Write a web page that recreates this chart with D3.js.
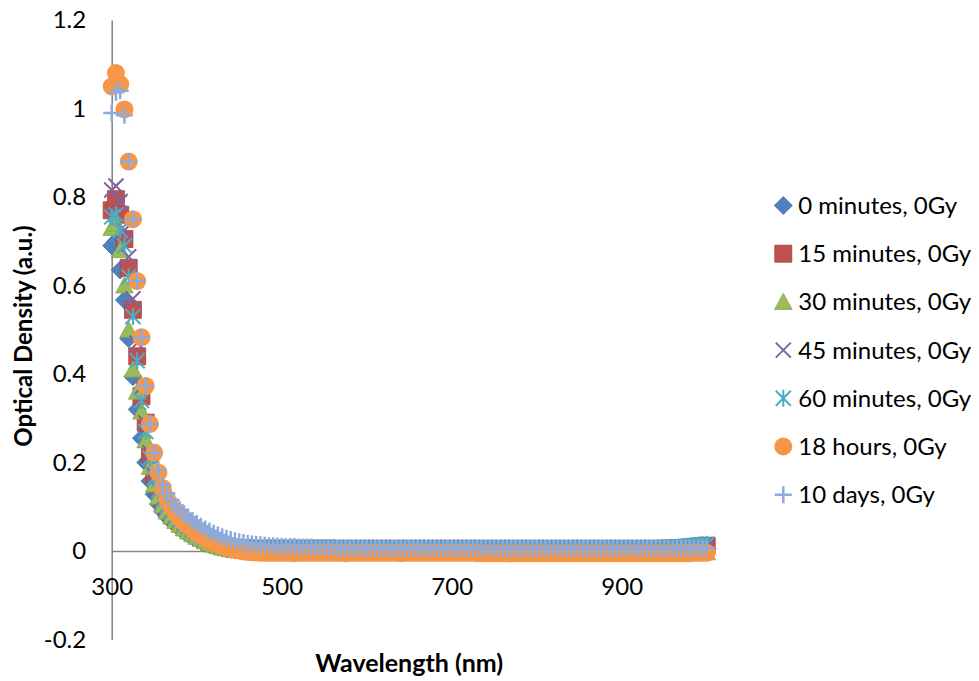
<!DOCTYPE html>
<html>
<head>
<meta charset="utf-8">
<script src="https://cdn.jsdelivr.net/npm/d3@7"></script>
<style>
  body { margin: 0; background: #fff; }
  svg { display: block; }
</style>
</head>
<body>
<svg id="chart" width="979" height="681"></svg>
<script>
// Absorbance spectra, 300–1000 nm sampled every 5 nm (141 points per series)
const wavelengths = d3.range(300, 1001, 5);

const seriesNames = [
  "0 minutes, 0Gy", "15 minutes, 0Gy", "30 minutes, 0Gy", "45 minutes, 0Gy",
  "60 minutes, 0Gy", "18 hours, 0Gy", "10 days, 0Gy"
];

const min0 = [
  0.690,0.700,0.635,0.567,0.480,0.394,0.320,0.255,0.200,0.158,
  0.128,0.106,0.090,0.078,0.068,0.060,0.052,0.045,0.039,0.033,
  0.028,0.023,0.019,0.015,0.012,0.009,0.007,0.005,0.004,0.003,
  0.002,0.002,0.001,0.001,0.001,0.000,0.000,0.000,0.000,0.000,
  0.000,0.000,0.000,0.000,0.000,0.000,0.001,0.000,0.000,0.000,
  0.000,0.000,0.000,0.001,0.000,0.000,0.000,0.000,0.000,0.000,
  0.000,0.000,0.001,0.000,0.000,0.000,0.000,0.000,0.000,0.000,
  0.000,0.000,0.000,0.000,0.001,0.000,0.000,0.000,0.000,0.000,
  0.000,0.000,0.000,0.000,0.000,0.000,0.001,0.001,0.001,0.001,
  0.001,0.001,0.001,0.001,0.001,0.001,0.001,0.001,0.001,0.001,
  0.001,0.001,0.001,0.001,0.001,0.001,0.001,0.001,0.001,0.001,
  0.001,0.001,0.001,0.001,0.001,0.001,0.001,0.001,0.001,0.001,
  0.001,0.001,0.001,0.001,0.002,0.002,0.002,0.002,0.002,0.002,
  0.002,0.002,0.002,0.003,0.003,0.003,0.004,0.004,0.005,0.005,
  0.006
];

const min15 = [
  0.770,0.795,0.760,0.705,0.640,0.545,0.440,0.350,0.290,0.220,
  0.170,0.140,0.118,0.102,0.090,0.079,0.069,0.060,0.052,0.045,
  0.038,0.032,0.027,0.022,0.018,0.014,0.011,0.009,0.007,0.005,
  0.004,0.003,0.003,0.002,0.002,0.002,0.002,0.002,0.002,0.002,
  0.002,0.002,0.002,0.002,0.002,0.003,0.002,0.002,0.002,0.002,
  0.002,0.002,0.002,0.002,0.003,0.002,0.002,0.002,0.002,0.002,
  0.002,0.002,0.002,0.002,0.002,0.002,0.003,0.002,0.002,0.002,
  0.002,0.002,0.002,0.002,0.002,0.002,0.002,0.002,0.002,0.002,
  0.002,0.002,0.002,0.002,0.002,0.002,0.003,0.003,0.003,0.003,
  0.003,0.003,0.003,0.003,0.003,0.003,0.003,0.003,0.003,0.003,
  0.003,0.003,0.003,0.003,0.003,0.003,0.003,0.003,0.003,0.003,
  0.003,0.003,0.003,0.003,0.003,0.003,0.003,0.003,0.003,0.003,
  0.003,0.003,0.003,0.003,0.003,0.003,0.004,0.004,0.004,0.004,
  0.005,0.005,0.005,0.006,0.006,0.007,0.008,0.009,0.010,0.011,
  0.012
];

const min30 = [
  0.730,0.740,0.680,0.600,0.500,0.410,0.360,0.315,0.250,0.190,
  0.150,0.122,0.103,0.089,0.078,0.068,0.059,0.051,0.044,0.038,
  0.032,0.027,0.022,0.018,0.014,0.011,0.008,0.006,0.004,0.003,
  0.002,0.001,0.001,0.000,0.000,-0.001,-0.001,-0.001,-0.001,-0.001,
  -0.001,-0.001,0.000,-0.001,-0.001,-0.001,-0.001,0.000,-0.001,-0.001,
  -0.001,-0.001,-0.001,-0.001,0.000,-0.001,-0.001,-0.001,-0.001,-0.001,
  -0.001,-0.001,-0.001,-0.001,-0.001,-0.001,0.000,-0.001,-0.001,-0.001,
  -0.001,-0.001,-0.001,-0.001,-0.001,-0.001,-0.001,-0.001,-0.001,-0.001,
  -0.001,-0.001,-0.001,-0.001,-0.001,-0.001,-0.001,-0.001,-0.001,-0.001,
  -0.001,-0.001,-0.001,-0.001,-0.001,-0.001,-0.001,-0.001,-0.001,-0.001,
  -0.001,-0.001,-0.001,-0.001,-0.001,-0.001,-0.001,-0.001,-0.001,-0.001,
  -0.001,-0.001,-0.001,-0.001,-0.001,-0.001,-0.001,-0.001,-0.001,-0.001,
  -0.001,-0.001,-0.001,-0.001,-0.001,-0.001,-0.001,-0.001,-0.001,-0.001,
  -0.001,-0.001,-0.001,-0.002,-0.002,-0.002,-0.002,-0.003,-0.003,-0.003,
  -0.003
];

const min45 = [
  0.816,0.825,0.790,0.725,0.665,0.570,0.470,0.370,0.290,0.222,
  0.172,0.140,0.118,0.102,0.090,0.080,0.071,0.063,0.056,0.049,
  0.043,0.037,0.032,0.027,0.023,0.019,0.016,0.013,0.011,0.010,
  0.009,0.009,0.008,0.008,0.008,0.008,0.008,0.008,0.008,0.008,
  0.008,0.008,0.008,0.007,0.008,0.008,0.008,0.008,0.008,0.008,
  0.008,0.008,0.008,0.008,0.008,0.007,0.008,0.008,0.008,0.008,
  0.008,0.008,0.008,0.008,0.008,0.008,0.008,0.008,0.007,0.008,
  0.008,0.008,0.008,0.008,0.008,0.008,0.008,0.008,0.008,0.008,
  0.008,0.008,0.008,0.008,0.008,0.008,0.008,0.008,0.008,0.008,
  0.008,0.008,0.008,0.008,0.008,0.008,0.008,0.008,0.008,0.008,
  0.008,0.008,0.008,0.008,0.008,0.008,0.008,0.008,0.008,0.008,
  0.008,0.008,0.008,0.008,0.008,0.008,0.008,0.008,0.008,0.008,
  0.008,0.008,0.008,0.008,0.008,0.008,0.008,0.008,0.008,0.008,
  0.008,0.008,0.008,0.009,0.009,0.009,0.010,0.010,0.011,0.011,
  0.012
];

const min60 = [
  0.755,0.760,0.725,0.690,0.620,0.530,0.430,0.340,0.270,0.210,
  0.165,0.136,0.115,0.100,0.088,0.078,0.069,0.061,0.054,0.047,
  0.041,0.035,0.030,0.026,0.022,0.018,0.015,0.012,0.010,0.008,
  0.007,0.006,0.006,0.005,0.005,0.005,0.005,0.005,0.005,0.005,
  0.005,0.005,0.005,0.005,0.006,0.005,0.005,0.005,0.005,0.005,
  0.005,0.005,0.005,0.005,0.005,0.005,0.006,0.005,0.005,0.005,
  0.005,0.005,0.005,0.005,0.005,0.005,0.005,0.005,0.005,0.006,
  0.005,0.005,0.005,0.005,0.005,0.005,0.005,0.005,0.005,0.005,
  0.005,0.005,0.005,0.005,0.005,0.005,0.006,0.006,0.006,0.006,
  0.006,0.006,0.006,0.006,0.006,0.006,0.006,0.006,0.006,0.006,
  0.006,0.006,0.006,0.006,0.006,0.006,0.006,0.006,0.006,0.006,
  0.006,0.006,0.006,0.006,0.006,0.006,0.006,0.006,0.006,0.006,
  0.006,0.006,0.006,0.006,0.006,0.006,0.006,0.006,0.006,0.006,
  0.007,0.007,0.008,0.008,0.009,0.010,0.011,0.012,0.013,0.014,
  0.015
];

const hours18 = [
  1.050,1.080,1.055,0.998,0.880,0.750,0.610,0.483,0.373,0.287,
  0.222,0.177,0.142,0.118,0.100,0.086,0.075,0.065,0.056,0.048,
  0.041,0.035,0.029,0.024,0.019,0.015,0.011,0.008,0.005,0.003,
  0.001,-0.001,-0.002,-0.003,-0.003,-0.004,-0.004,-0.004,-0.004,-0.004,
  -0.004,-0.004,-0.004,-0.005,-0.004,-0.004,-0.004,-0.004,-0.004,-0.004,
  -0.004,-0.004,-0.004,-0.004,-0.004,-0.005,-0.004,-0.004,-0.004,-0.004,
  -0.004,-0.004,-0.004,-0.004,-0.004,-0.004,-0.004,-0.004,-0.005,-0.004,
  -0.004,-0.004,-0.004,-0.004,-0.004,-0.004,-0.004,-0.004,-0.004,-0.004,
  -0.004,-0.004,-0.004,-0.004,-0.004,-0.004,-0.005,-0.005,-0.005,-0.005,
  -0.005,-0.005,-0.005,-0.005,-0.005,-0.005,-0.005,-0.005,-0.005,-0.005,
  -0.005,-0.005,-0.005,-0.005,-0.005,-0.005,-0.005,-0.005,-0.005,-0.005,
  -0.005,-0.005,-0.005,-0.005,-0.005,-0.005,-0.005,-0.005,-0.005,-0.005,
  -0.005,-0.005,-0.005,-0.005,-0.005,-0.005,-0.005,-0.005,-0.005,-0.005,
  -0.005,-0.005,-0.005,-0.005,-0.005,-0.005,-0.005,-0.004,-0.004,-0.004,
  -0.004
];

const days10 = [
  0.990,1.037,1.040,0.985,0.880,0.750,0.610,0.483,0.373,0.287,
  0.222,0.183,0.150,0.130,0.115,0.103,0.093,0.084,0.076,0.069,
  0.062,0.056,0.050,0.045,0.040,0.036,0.032,0.029,0.026,0.023,
  0.021,0.019,0.017,0.016,0.015,0.014,0.013,0.012,0.012,0.011,
  0.011,0.010,0.010,0.010,0.009,0.009,0.009,0.009,0.008,0.008,
  0.008,0.008,0.008,0.007,0.007,0.007,0.007,0.007,0.007,0.007,
  0.007,0.007,0.007,0.007,0.007,0.007,0.007,0.007,0.007,0.007,
  0.007,0.007,0.007,0.007,0.006,0.007,0.007,0.007,0.007,0.007,
  0.007,0.007,0.007,0.007,0.007,0.007,0.006,0.006,0.006,0.006,
  0.006,0.006,0.006,0.006,0.006,0.006,0.006,0.006,0.006,0.006,
  0.006,0.006,0.006,0.006,0.006,0.006,0.006,0.006,0.006,0.006,
  0.006,0.006,0.006,0.006,0.006,0.006,0.006,0.006,0.006,0.006,
  0.006,0.006,0.006,0.006,0.006,0.006,0.006,0.006,0.006,0.006,
  0.006,0.006,0.006,0.006,0.007,0.007,0.007,0.007,0.007,0.007,
  0.007
];

const xTicks = [300, 500, 700, 900];
const yTicks = [-0.2, 0, 0.2, 0.4, 0.6, 0.8, 1, 1.2];
const yTickLabels = ["-0.2", "0", "0.2", "0.4", "0.6", "0.8", "1", "1.2"];

// Marker styling, one entry per series (Office palette)
const markerStyles = [
  { shape: "diamond",  fill: "#4F81BD", stroke: "#41709F", width: 0.8 },
  { shape: "square",   fill: "#C0504D", stroke: "#A8423F", width: 0.8 },
  { shape: "triangle", fill: "#9BBB59", stroke: "#88A64A", width: 0.8 },
  { shape: "x",        fill: "none",    stroke: "#8064A2", width: 2 },
  { shape: "star",     fill: "none",    stroke: "#4BACC6", width: 2 },
  { shape: "circle",   fill: "#F79646", stroke: "none",    width: 0 },
  { shape: "plus",     fill: "none",    stroke: "#8EAADB", width: 2.5 }
];

const shapePath = {
  diamond:  `M0,-9L9,0L0,9L-9,0Z`,
  square:   `M-8.5,-8.5H8.5V8.5H-8.5Z`,
  triangle: `M0,-8.5L8.8,7.5H-8.8Z`,
  x:        `M-7.5,-7.5L7.5,7.5M-7.5,7.5L7.5,-7.5`,
  star:     `M-7.5,-7.5L7.5,7.5M-7.5,7.5L7.5,-7.5M0,-8.5V8.5`,
  circle:   `M9,0A9,9 0 1 1 -9,0A9,9 0 1 1 9,0Z`,
  plus:     `M-8.5,0H8.5M0,-8.5V8.5`
};

const allSeries = [min0, min15, min30, min45, min60, hours18, days10];

const FONT = "Lato, 'Noto Sans', sans-serif";
const svg = d3.select("#chart").attr("font-family", FONT);

const x = d3.scaleLinear().domain([300, 1000]).range([111.7, 706.7]);
const y = d3.scaleLinear().domain([-0.2, 1.2]).range([639.5, 20]);

// Vertical axis at 300 nm
const gy = svg.append("g")
  .attr("transform", `translate(${x(300)},0)`)
  .call(d3.axisLeft(y).tickValues(yTicks)
    .tickFormat((d, i) => yTickLabels[i]).tickSize(0).tickPadding(25.5));
gy.attr("font-family", FONT).attr("font-size", 24);
gy.select(".domain").attr("stroke", "#878787").attr("stroke-width", 1.6);
gy.selectAll("text").attr("fill", "#000");

// Horizontal axis crossing at zero
const gx = svg.append("g")
  .attr("transform", `translate(0,${y(0)})`)
  .call(d3.axisBottom(x).tickValues(xTicks).tickSize(0).tickPadding(27));
gx.attr("font-family", FONT).attr("font-size", 24);
gx.select(".domain").attr("stroke", "#878787").attr("stroke-width", 1.6);
gx.selectAll("text").attr("fill", "#000");

// Markers, series drawn in order so later ones sit on top
allSeries.forEach((vals, si) => {
  const st = markerStyles[si];
  svg.append("g")
    .selectAll("path")
    .data(vals.map((v, i) => [wavelengths[i], v]))
    .join("path")
    .attr("transform", d => `translate(${x(d[0])},${y(d[1])})`)
    .attr("d", shapePath[st.shape])
    .attr("fill", st.fill)
    .attr("stroke", st.stroke)
    .attr("stroke-width", st.width);
});

// Axis titles
svg.append("text")
  .attr("x", (x.range()[0] + x.range()[1]) / 2)
  .attr("y", 662)
  .attr("text-anchor", "middle")
  .attr("dominant-baseline", "central")
  .attr("font-weight", "bold")
  .attr("font-size", 25)
  .text("Wavelength (nm)");

svg.append("text")
  .attr("transform", "translate(22,336) rotate(-90)")
  .attr("text-anchor", "middle")
  .attr("dominant-baseline", "central")
  .attr("font-weight", "bold")
  .attr("font-size", 24)
  .text("Optical Density (a.u.)");

// Legend
const legend = svg.append("g").attr("transform", "translate(783.3,205.5)");
const items = legend.selectAll("g")
  .data(seriesNames)
  .join("g")
  .attr("transform", (d, i) => `translate(0,${i * 48.2})`);
items.append("path")
  .attr("d", (d, i) => shapePath[markerStyles[i].shape])
  .attr("fill", (d, i) => markerStyles[i].fill)
  .attr("stroke", (d, i) => markerStyles[i].stroke)
  .attr("stroke-width", (d, i) => markerStyles[i].width);
items.append("text")
  .attr("x", 15)
  .attr("dy", "0.35em")
  .attr("font-size", 24)
  .attr("fill", "#000")
  .text(d => d);
</script>
</body>
</html>
